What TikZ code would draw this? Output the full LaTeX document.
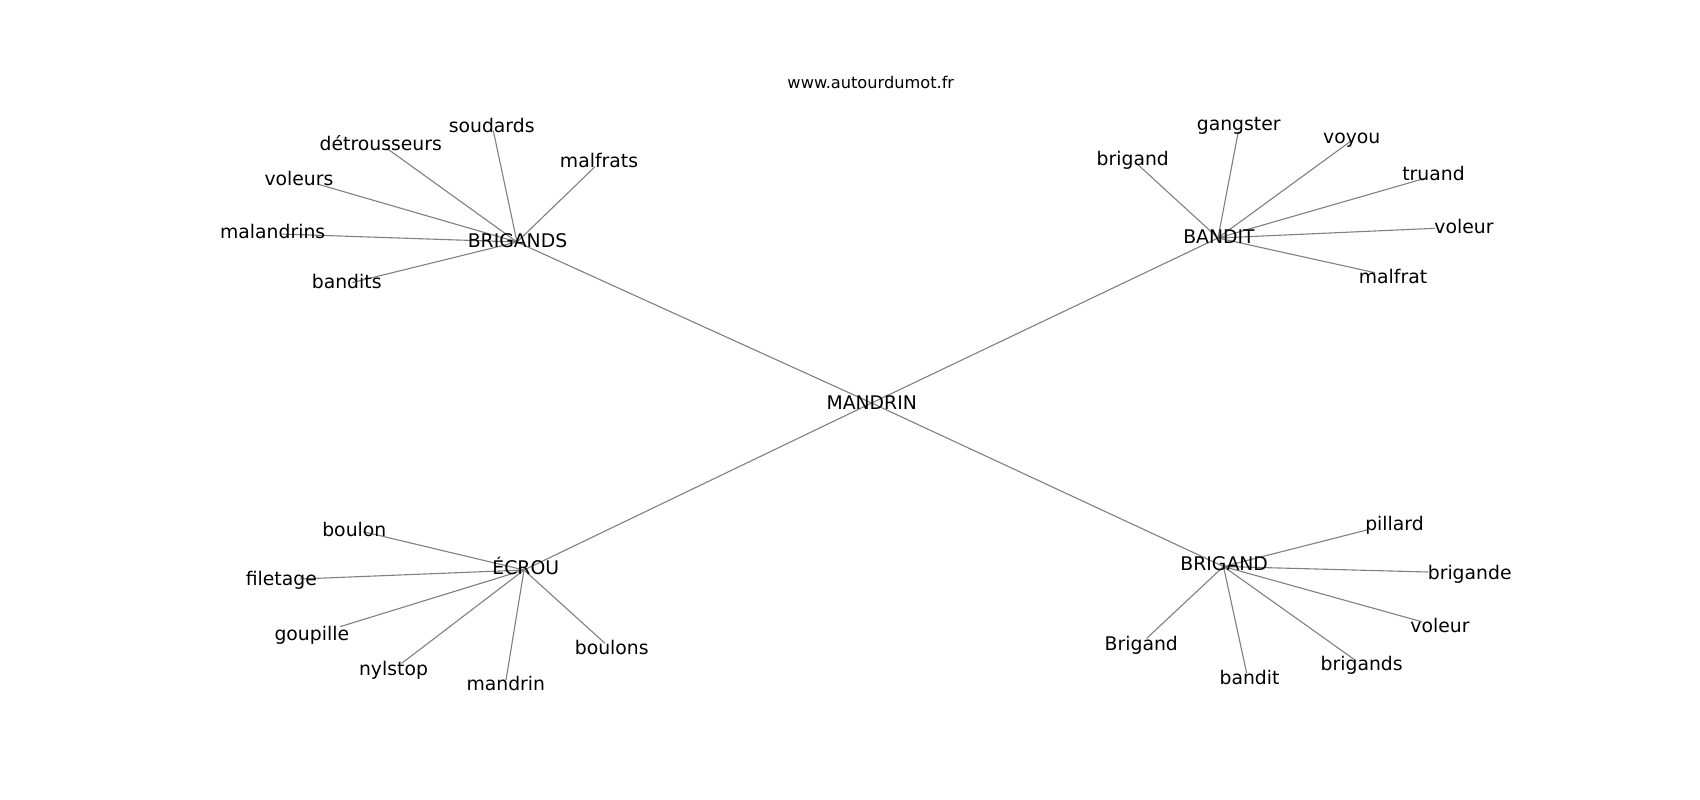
\documentclass[tikz,border=0pt]{standalone}
\usepackage{fontspec}
\setmainfont{DejaVu Sans}
\tikzset{
  lbl/.style={anchor=base,inner sep=0pt,font=\fontsize{18.8}{22}\selectfont,text=black},
  ttl/.style={anchor=base,inner sep=0pt,font=\fontsize{16.2}{19}\selectfont,text=black},
  edge/.style={draw=gray,line width=1.1pt}
}
\begin{document}
\begin{tikzpicture}[x=1pt,y=-1pt]
\useasboundingbox[fill=white] (0,0) rectangle (1700,800);
% hub positions
\coordinate (cMANDRIN) at (871.6,403);
\coordinate (cBRIGANDS) at (517,242);
\coordinate (cBANDIT) at (1218,238);
\coordinate (cECROU) at (524,570);
\coordinate (cBRIGAND) at (1223.5,566.5);
% leaf end points
\coordinate (e-soudards) at (493.3,130.7);
\coordinate (e-detrousseurs) at (386.7,148.3);
\coordinate (e-voleurs) at (318.3,184.3);
\coordinate (e-malandrins) at (280,234);
\coordinate (e-malfrats) at (595,166.7);
\coordinate (e-bandits) at (351.7,282.7);
\coordinate (e-gangster) at (1238.3,131.7);
\coordinate (e-brigand) at (1138.3,165);
\coordinate (e-voyou) at (1350,141.7);
\coordinate (e-truand) at (1425,178.3);
\coordinate (e-voleurA) at (1435,228.3);
\coordinate (e-malfrat) at (1375,272.7);
\coordinate (e-boulon) at (363.3,531.7);
\coordinate (e-filetage) at (300,579);
\coordinate (e-goupille) at (340,626.7);
\coordinate (e-nylstop) at (401.7,663.3);
\coordinate (e-mandrin) at (506,680);
\coordinate (e-boulons) at (605,643.3);
\coordinate (e-pillard) at (1366.7,530);
\coordinate (e-brigande) at (1428,572);
\coordinate (e-voleurB) at (1421.7,621.7);
\coordinate (e-brigands) at (1355,660);
\coordinate (e-bandit) at (1246.7,673.3);
\coordinate (e-Brigand) at (1146.7,638.3);
% edges
\draw[edge] (cMANDRIN) -- (cBRIGANDS);
\draw[edge] (cMANDRIN) -- (cBANDIT);
\draw[edge] (cMANDRIN) -- (cECROU);
\draw[edge] (cMANDRIN) -- (cBRIGAND);
\foreach \e in {soudards,detrousseurs,voleurs,malandrins,malfrats,bandits}
  \draw[edge] (cBRIGANDS) -- (e-\e);
\foreach \e in {gangster,brigand,voyou,truand,voleurA,malfrat}
  \draw[edge] (cBANDIT) -- (e-\e);
\foreach \e in {boulon,filetage,goupille,nylstop,mandrin,boulons}
  \draw[edge] (cECROU) -- (e-\e);
\foreach \e in {pillard,brigande,voleurB,brigands,bandit,Brigand}
  \draw[edge] (cBRIGAND) -- (e-\e);
% title
\node[ttl] (title) at (870.8,88.3) {www.autourdumot.fr};
% hub labels
\node[lbl] (MANDRIN) at (871.7,409.5) {MANDRIN};
\node[lbl] (BRIGANDS) at (517.5,247.3) {BRIGANDS};
\node[lbl] (BANDIT) at (1219,243.5) {BANDIT};
\node[lbl] (ECROU) at (525.8,574.3) {ÉCROU};
\node[lbl] (BRIGAND) at (1224.2,570.7) {BRIGAND};
% leaf labels
\node[lbl] (soudards) at (491.7,132.3) {soudards};
\node[lbl] (detrousseurs) at (380.8,150) {détrousseurs};
\node[lbl] (voleurs) at (299,185.7) {voleurs};
\node[lbl] (malandrins) at (272.7,238.3) {malandrins};
\node[lbl] (malfrats) at (599,167.3) {malfrats};
\node[lbl] (bandits) at (346.7,288.3) {bandits};
\node[lbl] (gangster) at (1238.7,130.3) {gangster};
\node[lbl] (brigand) at (1132.8,165) {brigand};
\node[lbl] (voyou) at (1351.7,143) {voyou};
\node[lbl] (truand) at (1433.5,180.7) {truand};
\node[lbl] (voleurA) at (1464,233.3) {voleur};
\node[lbl] (malfrat) at (1393,283.3) {malfrat};
\node[lbl] (boulon) at (354.3,536) {boulon};
\node[lbl] (filetage) at (281.3,585.7) {filetage};
\node[lbl] (goupille) at (311.8,640) {goupille};
\node[lbl] (nylstop) at (393.5,675) {nylstop};
\node[lbl] (mandrin) at (505.8,690) {mandrin};
\node[lbl] (boulons) at (611.7,654) {boulons};
\node[lbl] (pillard) at (1394.5,530.7) {pillard};
\node[lbl] (brigande) at (1469.7,579) {brigande};
\node[lbl] (voleurB) at (1440,632.3) {voleur};
\node[lbl] (brigands) at (1361.7,670.7) {brigands};
\node[lbl] (bandit) at (1249.5,684) {bandit};
\node[lbl] (Brigand) at (1141.3,650) {Brigand};
\end{tikzpicture}
\end{document}
